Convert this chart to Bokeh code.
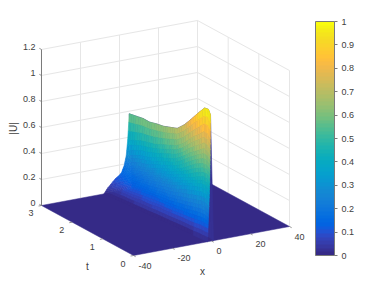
from bokeh.plotting import figure
from bokeh.embed import file_html
from bokeh.resources import INLINE
from bokeh.core.properties import value
from bokeh.models import ColorBar, LinearColorMapper, FixedTicker, Range1d
import numpy as np

PARULA = [(0.2081,0.1663,0.5292),(0.2116,0.1898,0.5777),(0.2123,0.2138,0.6270),(0.2081,0.2386,0.6771),(0.1959,0.2645,0.7279),(0.1707,0.2919,0.7792),(0.1253,0.3242,0.8303),(0.0591,0.3598,0.8683),(0.0117,0.3875,0.8820),(0.0060,0.4086,0.8828),(0.0165,0.4266,0.8786),(0.0329,0.4430,0.8720),(0.0498,0.4586,0.8641),(0.0629,0.4737,0.8554),(0.0723,0.4887,0.8467),(0.0779,0.5040,0.8384),(0.0793,0.5200,0.8312),(0.0749,0.5375,0.8263),(0.0641,0.5570,0.8240),(0.0488,0.5772,0.8228),(0.0343,0.5966,0.8199),(0.0265,0.6137,0.8135),(0.0239,0.6287,0.8038),(0.0231,0.6418,0.7913),(0.0228,0.6535,0.7768),(0.0267,0.6642,0.7607),(0.0384,0.6743,0.7436),(0.0590,0.6838,0.7254),(0.0843,0.6928,0.7062),(0.1133,0.7015,0.6859),(0.1453,0.7098,0.6646),(0.1801,0.7177,0.6424),(0.2178,0.7250,0.6190),(0.2586,0.7317,0.5954),(0.3022,0.7376,0.5712),(0.3482,0.7424,0.5473),(0.3953,0.7459,0.5244),(0.4420,0.7481,0.5033),(0.4871,0.7491,0.4840),(0.5300,0.7491,0.4661),(0.5709,0.7485,0.4494),(0.6099,0.7473,0.4337),(0.6473,0.7456,0.4188),(0.6834,0.7435,0.4044),(0.7184,0.7411,0.3905),(0.7525,0.7384,0.3768),(0.7858,0.7356,0.3633),(0.8185,0.7327,0.3498),(0.8507,0.7299,0.3360),(0.8824,0.7274,0.3217),(0.9139,0.7258,0.3063),(0.9450,0.7261,0.2886),(0.9739,0.7314,0.2666),(0.9938,0.7455,0.2403),(0.9990,0.7653,0.2164),(0.9955,0.7861,0.1967),(0.9880,0.8066,0.1794),(0.9789,0.8271,0.1633),(0.9697,0.8481,0.1475),(0.9626,0.8705,0.1309),(0.9589,0.8949,0.1132),(0.9598,0.9218,0.0948),(0.9661,0.9514,0.0755),(0.9763,0.9831,0.0538)]
palette = ["#%02x%02x%02x" % tuple(int(round(c*255)) for c in rgb) for rgb in PARULA]

x_ticks = [-40, -20, 0, 20, 40]
t_ticks = [0, 1, 2, 3]
z_ticks = [0, 0.2, 0.4, 0.6, 0.8, 1, 1.2]
z_labels = ["0", "0.2", "0.4", "0.6", "0.8", "1", "1.2"]
cb_ticks = [0, .1, .2, .3, .4, .5, .6, .7, .8, .9, 1]

t_rows = [3, 2.75, 2.5, 2.25, 2, 1.75, 1.5, 1.25, 1, .75, .5, .25, .1, 0]
x_start = [-8, -7.5, -7, -6.5, -6, -5.5, -5, -4.5, -4, -3.5, -3, -2.5, -2.2, -2]
x_ridge = [5, 4.6, 4.2, 3.75, 3.3, 2.9, 2.5, 2.1, 1.7, 1.25, .8, .4, 0, -.5]
x_fall = 1.5
fractions = [0, .15, .3, .45, .6, .7, .8, .88, .94, 1]
U_rows = [
    [0, .04, .07, .10, .12, .14, .19, .26, .38, .58],
    [0, .05, .09, .12, .15, .17, .22, .30, .41, .595],
    [0, .06, .10, .14, .17, .20, .25, .33, .44, .61],
    [0, .06, .11, .15, .19, .22, .27, .35, .46, .615],
    [0, .07, .12, .16, .21, .25, .30, .38, .48, .635],
    [0, .07, .13, .17, .23, .28, .33, .41, .51, .65],
    [0, .08, .135, .19, .25, .30, .36, .44, .54, .675],
    [0, .08, .14, .20, .27, .33, .39, .47, .57, .70],
    [0, .085, .15, .22, .30, .36, .43, .52, .62, .76],
    [0, .09, .16, .24, .33, .39, .48, .58, .69, .835],
    [0, .09, .175, .26, .36, .43, .53, .63, .75, .915],
    [0, .10, .19, .28, .38, .465, .565, .68, .81, .99],
    [0, .10, .19, .28, .38, .47, .57, .68, .81, 1.0],
    [0, .10, .185, .27, .37, .455, .55, .66, .79, .97],
]

XL, XH, TL, TH, ZH = -40, 40, 0, 3, 1.2

def proj(x, t, z):
    # view of the box: front corner (x=-40, t=0) and its edges on the page
    sx = 133 + 1.95 * (np.asarray(x, float) + 40) - 30.67 * np.asarray(t, float)
    sy = 255 - 0.3625 * (np.asarray(x, float) + 40) - 16.67 * np.asarray(t, float) - 130 * np.asarray(z, float)
    return sx, sy

def shade(u):
    return palette[min(63, max(0, int(u * 64)))]

p = figure(width=366, height=278, x_range=Range1d(0, 366), y_range=Range1d(278, 0),
           output_backend="svg", toolbar_location=None, min_border=0, outline_line_color=None)
p.xaxis.visible = False
p.yaxis.visible = False
p.grid.visible = False
p.background_fill_color = "white"

# walls
GRID = "#e6e6e6"
gx, gy = [], []
for z in z_ticks[1:]:
    a = proj([XL, XH, XH], [TH, TH, TL], [z, z, z])
    gx.append(list(a[0])); gy.append(list(a[1]))
for x in x_ticks[1:]:
    a = proj([x, x], [TH, TH], [0, ZH])
    gx.append(list(a[0])); gy.append(list(a[1]))
for t in t_ticks[:-1]:
    a = proj([XH, XH], [t, t], [0, ZH])
    gx.append(list(a[0])); gy.append(list(a[1]))
p.multi_line(gx, gy, line_color=GRID, line_width=1)

# floor
fx, fy = proj([XL, XH, XH, XL], [TL, TL, TH, TH], [0, 0, 0, 0])
p.patch(list(fx), list(fy), fill_color=palette[0], line_color=palette[0], line_width=.5)

# falling side of the ridge, dark, then the surface back to front
dx, dy = [], []
xs, ys, cols = [], [], []
N_T, N_S = 3, 3
for i in range(len(t_rows) - 1):
    t0, t1 = t_rows[i], t_rows[i + 1]
    r0, r1 = x_ridge[i], x_ridge[i + 1]
    s0, s1 = x_start[i], x_start[i + 1]
    u0, u1 = U_rows[i], U_rows[i + 1]
    sx, sy = proj([r0, r0 + x_fall, r1 + x_fall, r1], [t0, t0, t1, t1], [u0[-1], 0, 0, u1[-1]])
    dx.append(list(sx)); dy.append(list(sy))
    for a in range(N_T):
        f0, f1 = a / N_T, (a + 1) / N_T
        ta, tb = t0 + (t1 - t0) * f0, t0 + (t1 - t0) * f1
        ra, rb = r0 + (r1 - r0) * f0, r0 + (r1 - r0) * f1
        ba, bb = s0 + (s1 - s0) * f0, s0 + (s1 - s0) * f1
        for j in range(len(fractions) - 2, -1, -1):
            for b in range(N_S - 1, -1, -1):
                g0, g1 = b / N_S, (b + 1) / N_S
                sa = fractions[j] + (fractions[j + 1] - fractions[j]) * g0
                sb = fractions[j] + (fractions[j + 1] - fractions[j]) * g1
                def U(f, g):
                    low = u0[j] + (u1[j] - u0[j]) * f
                    high = u0[j + 1] + (u1[j + 1] - u0[j + 1]) * f
                    return low + (high - low) * g
                za, zb, zc, zd = U(f0, g0), U(f0, g1), U(f1, g1), U(f1, g0)
                xa = ba + sa * (ra - ba)
                xb = ba + sb * (ra - ba)
                xc = bb + sb * (rb - bb)
                xd = bb + sa * (rb - bb)
                sx, sy = proj([xa, xb, xc, xd], [ta, ta, tb, tb], [za, zb, zc, zd])
                xs.append(list(sx)); ys.append(list(sy)); cols.append(shade((za + zb + zc + zd) / 4))
p.patches(dx, dy, fill_color=palette[1], line_color=palette[1], line_width=.6)
p.patches(xs, ys, fill_color=cols, line_color=cols, line_width=.6)

# axis line and ticks
AXC = "#7a7a7a"
a = proj([XL, XL], [TH, TH], [0, ZH])
p.line(list(a[0]), list(a[1]), line_color=AXC, line_width=1)
tx, ty = [], []
for z in z_ticks:
    a = proj([XL, XL], [TH, TH + .07], [z, z]); tx.append(list(a[0])); ty.append(list(a[1]))
for x in x_ticks:
    a = proj([x, x], [TL, TL - .07], [0, 0]); tx.append(list(a[0])); ty.append(list(a[1]))
for t in t_ticks:
    a = proj([XL, XL - 1.5], [t, t], [0, 0]); tx.append(list(a[0])); ty.append(list(a[1]))
p.multi_line(tx, ty, line_color=AXC, line_width=.8)

FONT = value("Liberation Sans")
TXT = "#404040"
kw = dict(text_font=FONT, text_color=TXT, text_font_size="9px", text_baseline="middle")
a = proj([XL] * len(z_ticks), [TH] * len(z_ticks), z_ticks)
p.text(a[0] - 6, a[1] - 2, text=z_labels, text_align="right", **kw)
a = proj([XL] * len(t_ticks), t_ticks, [0] * len(t_ticks))
p.text(a[0] - 10.5, a[1] + 8, text=[str(t) for t in t_ticks], text_align="center", **kw)
a = proj(x_ticks, [TL] * len(x_ticks), [0] * len(x_ticks))
p.text(a[0] + 5, a[1] + 10, text=[str(x) for x in x_ticks], text_align="left", **kw)

kw2 = dict(text_font=FONT, text_color=TXT, text_font_size="10px", text_baseline="middle", text_align="center")
p.text([87], [266], text=["t"], **kw2)
p.text([202], [271], text=["x"], **kw2)
p.text([13], [128], text=["|U|"], angle=np.pi / 2, **kw2)

mapper = LinearColorMapper(palette=palette, low=0, high=1)
cb = ColorBar(color_mapper=mapper, ticker=FixedTicker(ticks=cb_ticks), location=(315, 23),
              width=19, height=234, padding=0, margin=0,
              bar_line_color="#7a7a7a", bar_line_width=1,
              major_tick_line_color="#7a7a7a", major_tick_in=0, major_tick_out=3,
              major_label_text_font="Liberation Sans", major_label_text_font_size="9px",
              major_label_text_color=TXT, label_standoff=4, background_fill_alpha=0,
              border_line_color=None)
p.add_layout(cb, "center")

open("out.html", "w").write(file_html(p, INLINE))
